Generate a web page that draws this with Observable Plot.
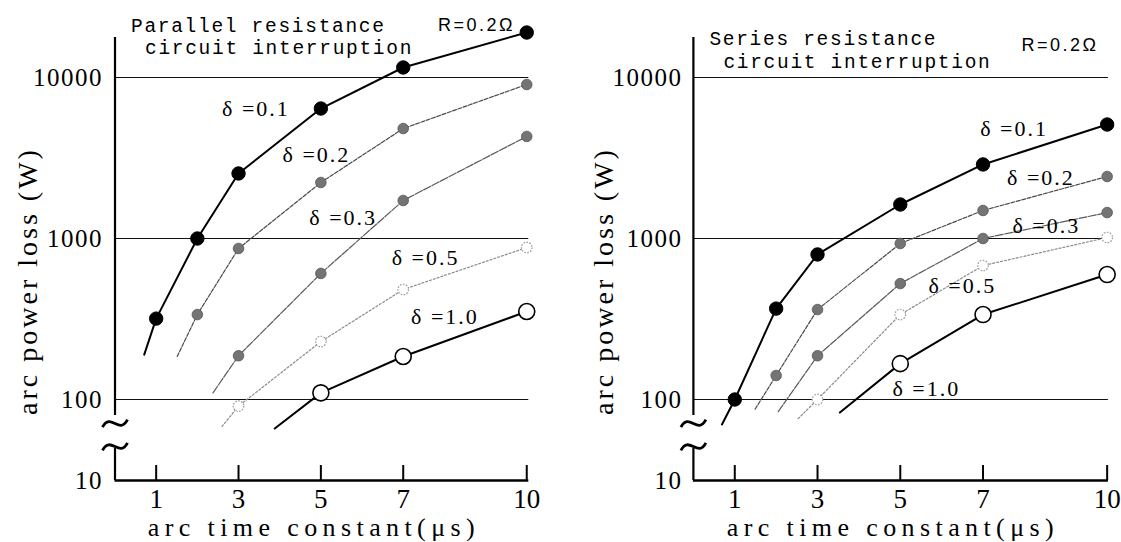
<!DOCTYPE html>
<html>
<head>
<meta charset="utf-8">
<script src="https://cdn.jsdelivr.net/npm/d3@7"></script>
<script src="https://cdn.jsdelivr.net/npm/@observablehq/plot@0.6"></script>
<style>
  html, body { margin: 0; padding: 0; background: #fff; }
  #wrap { display: flex; width: 1121px; height: 542px; overflow: hidden; }
</style>
</head>
<body>
<div id="wrap"></div>
<script>
// ---------- shared tick data ----------
const xTicks = [1, 3, 5, 7, 10];
const yGrid = [100, 1000, 10000];
const yTickLabels = ["10", "100", "1000", "10000"];
const deltas = ["0.1", "0.2", "0.3", "0.5", "1.0"];

// ---------- Parallel resistance circuit interruption ----------
const parX = [[1, 2, 3, 5, 7, 10], [2, 3, 5, 7, 10], [3, 5, 7, 10], [3, 5, 7, 10], [5, 7, 10]];
const parY = [
  [318, 1000, 2535, 6416, 11540, 19030],
  [337, 867, 2228, 4820, 9050],
  [187, 607, 1722, 4305],
  [91, 229, 482, 879],
  [110, 185, 352]
];
// where each fitted line begins (left, below the first measurement)
const parStartX = [0.71, 1.51, 2.38, 2.60, 3.88];
const parStartY = [190, 185, 110, 68, 66];
// label anchors (left edge) for each delta curve
const parLabelX = [2.60, 4.07, 4.72, 6.72, 7.19];
const parLabelY = [6416, 3280, 1349, 752, 324];

// ---------- Series resistance circuit interruption ----------
const serX = [[1, 2, 3, 5, 7, 10], [2, 3, 5, 7, 10], [3, 5, 7, 10], [3, 5, 7, 10], [5, 7, 10]];
const serY = [
  [100, 367, 796, 1626, 2884, 5105],
  [141, 362, 931, 1493, 2427],
  [187, 525, 1000, 1449],
  [100, 337, 679, 1014],
  [167, 337, 597]
];
const serStartX = [0.69, 1.49, 2.05, 2.53, 3.54];
const serStartY = [70, 87, 84, 76, 83];
const serLabelX = [6.93, 7.58, 7.71, 5.68, 4.81];
const serLabelY = [4820, 2365, 1205, 510, 117];

// ---------- scale settings ----------
const yTop = 17720;        // top of the vertical axis
const yBreakBottom = 31.4; // where the "10" of the broken axis sits
const yAxisUpperEnd = 79.6;
const yAxisLowerStart = 49.7;
const yBreakMarks = [71, 51];
const yTickInner = 38.9;

// ---------- styles per delta ----------
const styles = {
  "0.1": {stroke: "#000", sw: 2, dash: null, fill: "#000", dotStroke: "#000", r: 6.7, dotDash: null, dsw: 1},
  "0.2": {stroke: "#4a4a4a", sw: 1.2, dash: "4,1.6", fill: "#747474", dotStroke: "#555", r: 5.3, dotDash: null, dsw: 0.8},
  "0.3": {stroke: "#5a5a5a", sw: 1.2, dash: "8,1.5", fill: "#747474", dotStroke: "#555", r: 5.3, dotDash: null, dsw: 0.8},
  "0.5": {stroke: "#8a8a8a", sw: 1.2, dash: "2,2", fill: "#fff", dotStroke: "#9a9a9a", r: 5.3, dotDash: "1.6,1.4", dsw: 1.2},
  "1.0": {stroke: "#000", sw: 2, dash: null, fill: "#fff", dotStroke: "#000", r: 8, dotDash: null, dsw: 1.6}
};

const serif = "'Liberation Serif', 'DejaVu Serif', serif";
const mono = "'Liberation Mono', 'DejaVu Sans Mono', monospace";
const sans = "'Liberation Sans', 'DejaVu Sans', sans-serif";

// axis-break symbol (a tilde) for the dot mark
const tildeSymbol = {
  draw(ctx, size) {
    const r = Math.sqrt(size / Math.PI);
    ctx.moveTo(-r, 0.3 * r);
    ctx.bezierCurveTo(-0.35 * r, -0.95 * r, 0.35 * r, 0.95 * r, r, -0.3 * r);
  }
};

function panel(cfg) {
  const marks = [];
  // grid lines
  marks.push(Plot.ruleY(yGrid, {stroke: "#111", strokeWidth: 1.1}));
  // broken y axis line
  marks.push(Plot.ruleX([0], {y1: yTop, y2: yAxisUpperEnd, stroke: "#000", strokeWidth: 2.2}));
  marks.push(Plot.ruleX([0], {y1: yAxisLowerStart, y2: yBreakBottom, stroke: "#000", strokeWidth: 2.2}));
  marks.push(Plot.dot(yBreakMarks, {x: 0, y: d => d, symbol: tildeSymbol, r: 12.5, fill: "none", stroke: "#000", strokeWidth: 2.8}));
  // bottom axis line
  marks.push(Plot.ruleY([yBreakBottom], {stroke: "#000", strokeWidth: 2.5}));
  // inward x ticks
  marks.push(Plot.ruleX(xTicks, {x: d => d, y1: yBreakBottom, y2: yTickInner, stroke: "#000", strokeWidth: 2}));
  // axes (labels only)
  const yTickPos = [yBreakBottom, ...yGrid];
  marks.push(Plot.axisY({
    ticks: yTickPos,
    tickFormat: (d) => yTickLabels[yTickPos.indexOf(d)],
    tickSize: 0, tickPadding: cfg.yPad, fontSize: 25, fontFamily: serif, label: null, fill: "#000"
  }));
  marks.push(Plot.axisX({
    ticks: xTicks, tickFormat: d => String(d),
    tickSize: 0, tickPadding: 8, fontSize: 27, fontFamily: serif, label: null, fill: "#000"
  }));
  // series lines
  deltas.forEach((dl, i) => {
    const st = styles[dl];
    const pts = cfg.xs[i].map((x, j) => ({x, y: cfg.ys[i][j]}));
    const linePts = [{x: cfg.startX[i], y: cfg.startY[i]}, ...pts];
    marks.push(Plot.line(linePts, {x: "x", y: "y", stroke: st.stroke, strokeWidth: st.sw, strokeDasharray: st.dash, curve: "linear"}));
  });
  // series markers
  deltas.forEach((dl, i) => {
    const st = styles[dl];
    const pts = cfg.xs[i].map((x, j) => ({x, y: cfg.ys[i][j]}));
    marks.push(Plot.dot(pts, {x: "x", y: "y", r: st.r, fill: st.fill, stroke: st.dotStroke, strokeWidth: st.dsw, strokeDasharray: st.dotDash}));
  });
  // delta labels
  marks.push(Plot.text(deltas.map((d, i) => ({t: "δ =" + d, x: cfg.labelX[i], y: cfg.labelY[i]})), {
    x: "x", y: "y", text: "t", textAnchor: "start", lineAnchor: "middle", fontSize: 22, fontFamily: serif, fill: "#000"
  }));
  // titles
  const tOpts = {frameAnchor: "top-left", textAnchor: "start", lineAnchor: "middle", fill: "#000"};
  marks.push(Plot.text([cfg.title1], {...tOpts, dx: cfg.t1[0], dy: cfg.t1[1], fontSize: 19.5, fontFamily: mono}));
  marks.push(Plot.text([cfg.title2], {...tOpts, dx: cfg.t2[0], dy: cfg.t2[1], fontSize: 19.5, fontFamily: mono}));
  marks.push(Plot.text(["R=0.2Ω"], {...tOpts, dx: cfg.rl[0], dy: cfg.rl[1], fontSize: 18, fontFamily: sans}));
  // axis titles
  marks.push(Plot.text(["arc time constant(μs)"], {frameAnchor: "bottom", textAnchor: "middle", lineAnchor: "middle", dx: cfg.xl[0], dy: cfg.xl[1], fontSize: 26, fontFamily: serif, fill: "#000"}));
  marks.push(Plot.text(["arc power loss (W)"], {frameAnchor: "left", textAnchor: "middle", lineAnchor: "middle", rotate: -90, dx: cfg.yl[0], dy: cfg.yl[1], fontSize: 28, fontFamily: serif, fill: "#000"}));

  const svg = Plot.plot({
    width: cfg.width, height: 542,
    marginLeft: cfg.ml, marginRight: cfg.mr, marginTop: 37, marginBottom: 62,
    x: {domain: [0, cfg.xMax]},
    y: {type: "log", domain: [yBreakBottom, yTop]},
    style: {background: "#fff", color: "#000", overflow: "visible"},
    marks
  });

  // letter spacing to mimic the wide half-width fonts of the original
  svg.querySelectorAll("text").forEach(t => {
    const s = t.textContent;
    let ls = 0;
    if (s.startsWith("δ")) ls = 2;
    else if (s === "arc time constant(μs)") ls = 5.4;
    else if (s === "arc power loss (W)") ls = 3.0;
    else if (s === "R=0.2Ω") ls = 2.5;
    else if (s === cfg.title1 || s === cfg.title2) ls = 1.7;
    else if (/^\d+$/.test(s) && t.closest('[text-anchor="end"]')) ls = 1.5;
    if (ls) t.style.letterSpacing = ls + "px";
  });
  return svg;
}

const wrap = document.getElementById("wrap");
wrap.appendChild(panel({
  width: 560, ml: 114.5, mr: 31.7, xMax: 10.05, yPad: 12,
  xs: parX, ys: parY, startX: parStartX, startY: parStartY, labelX: parLabelX, labelY: parLabelY,
  title1: "Parallel resistance", title2: "circuit interruption",
  t1: [16, -11.5], t2: [30, 10.5], rl: [323, -12], xl: [-8, 46.7], yl: [-87, 22]
}));
wrap.appendChild(panel({
  width: 561, ml: 132.9, mr: 13.1, xMax: 10.03, yPad: 11,
  xs: serX, ys: serY, startX: serStartX, startY: serStartY, labelX: serLabelX, labelY: serLabelY,
  title1: "Series resistance", title2: "circuit interruption",
  t1: [16, 1.5], t2: [30, 24.5], rl: [328, 8], xl: [-8, 46.7], yl: [-89, 22]
}));
</script>
</body>
</html>
